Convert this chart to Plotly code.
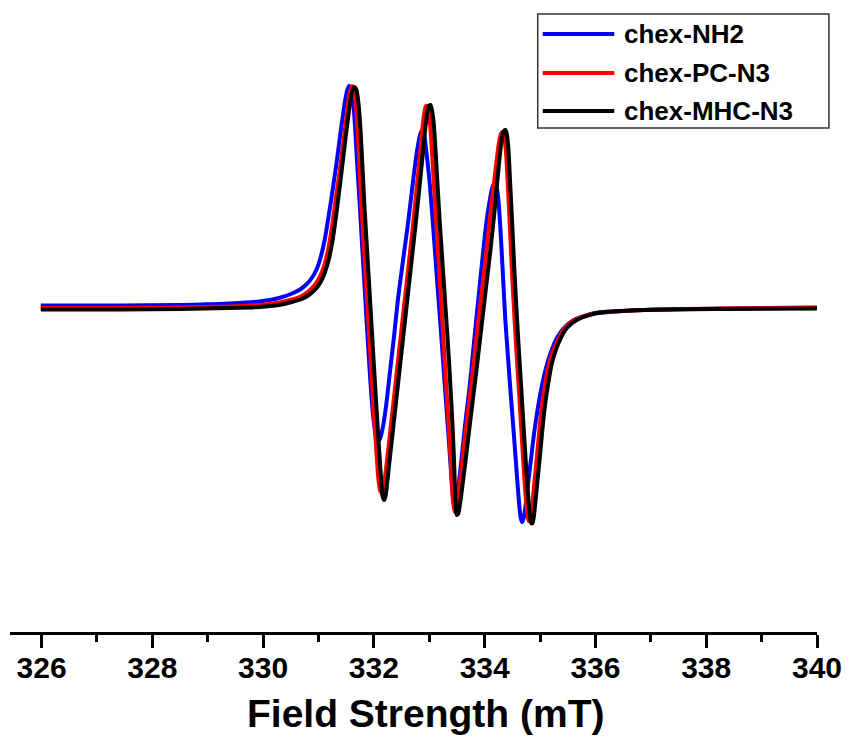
import plotly.graph_objects as go

# ---- EPR spectra (field in mT, derivative intensity in a.u.) ----
field_nh2 = [325.986, 327.419, 328.495, 329.391, 329.928, 330.287, 330.502, 330.681, 330.789, 330.879,
             330.968, 331.040, 331.111, 331.183, 331.255, 331.326, 331.380, 331.434, 331.479, 331.515,
             331.550, 331.586, 331.622, 331.658, 331.694, 331.739, 331.792, 331.846, 331.900, 331.954,
             331.998, 332.043, 332.079, 332.115, 332.169, 332.222, 332.294, 332.366, 332.437, 332.527,
             332.617, 332.688, 332.760, 332.814, 332.850, 332.885, 332.912, 332.939, 332.975, 333.011,
             333.065, 333.118, 333.172, 333.226, 333.280, 333.333, 333.378, 333.414, 333.441, 333.468,
             333.495, 333.531, 333.584, 333.656, 333.728, 333.799, 333.871, 333.961, 334.032, 334.086,
             334.131, 334.176, 334.212, 334.238, 334.265, 334.301, 334.337, 334.373, 334.418, 334.462,
             334.507, 334.552, 334.588, 334.624, 334.651, 334.677, 334.704, 334.740, 334.785, 334.839,
             334.893, 334.946, 335.018, 335.108, 335.197, 335.305, 335.430, 335.609, 335.932, 336.828,
             338.351, 340.000]
signal_nh2 = [1.5, 1.5, 2, 3.5, 5.5, 9, 13, 18, 23, 29,
              38, 50, 67, 91, 117, 144, 167, 189, 206, 216,
              221, 218, 207, 182, 147, 107, 57, 7, -43, -88,
              -115, -130, -134, -131, -118, -98, -63, -28, 9, 47,
              84, 117, 149, 167, 175, 176, 171, 159, 142, 122,
              84, 44, 4, -36, -78, -118, -153, -183, -196, -199,
              -193, -178, -151, -113, -80, -40, 0, 49, 85, 105,
              118, 124, 121, 112, 95, 62, 24, -13, -48, -81,
              -113, -146, -173, -198, -211, -215, -211, -198, -176, -151,
              -126, -106, -83, -61, -45, -31, -21, -13, -7, -3,
              -1.5, -0.5]

field_pc = [325.986, 327.419, 328.495, 329.391, 329.928, 330.287, 330.520, 330.699, 330.825, 330.932,
            331.022, 331.093, 331.165, 331.237, 331.308, 331.380, 331.434, 331.488, 331.532, 331.568,
            331.604, 331.631, 331.667, 331.703, 331.739, 331.774, 331.828, 331.882, 331.936, 331.989,
            332.043, 332.079, 332.115, 332.142, 332.169, 332.205, 332.258, 332.348, 332.437, 332.527,
            332.617, 332.706, 332.778, 332.832, 332.876, 332.912, 332.939, 332.966, 332.993, 333.020,
            333.047, 333.100, 333.154, 333.208, 333.262, 333.316, 333.370, 333.405, 333.432, 333.459,
            333.486, 333.521, 333.575, 333.656, 333.746, 333.835, 333.925, 334.015, 334.086, 334.158,
            334.212, 334.256, 334.292, 334.319, 334.346, 334.382, 334.418, 334.453, 334.489, 334.525,
            334.561, 334.606, 334.651, 334.695, 334.731, 334.767, 334.794, 334.821, 334.848, 334.893,
            334.946, 335.018, 335.090, 335.179, 335.323, 335.448, 335.627, 335.986, 336.882, 338.351,
            340.000]
signal_pc = [-1, -1, -0.5, 0.5, 2, 4.5, 7.5, 11, 16, 22,
             30, 40, 55, 78, 107, 135, 159, 183, 203, 215,
             221, 219, 207, 182, 142, 102, 52, 2, -48, -98,
             -143, -171, -184, -186, -182, -168, -143, -98, -53, -8,
             37, 82, 122, 152, 179, 195, 201, 201, 195, 179,
             157, 107, 59, 11, -38, -88, -138, -173, -196, -205,
             -203, -191, -165, -125, -83, -40, 4, 47, 85, 119,
             145, 164, 173, 175, 171, 157, 122, 82, 39, 2,
             -33, -73, -113, -153, -183, -205, -214, -213, -203, -178,
             -148, -106, -78, -53, -33, -21, -13, -6, -3, -1.5,
             -1]

field_mhc = [325.986, 327.419, 328.495, 329.391, 329.928, 330.287, 330.520, 330.699, 330.825, 330.950,
             331.039, 331.111, 331.183, 331.255, 331.326, 331.398, 331.452, 331.506, 331.560, 331.604,
             331.649, 331.685, 331.721, 331.756, 331.792, 331.828, 331.882, 331.936, 331.989, 332.043,
             332.097, 332.133, 332.160, 332.187, 332.214, 332.249, 332.294, 332.384, 332.473, 332.563,
             332.652, 332.742, 332.814, 332.868, 332.921, 332.957, 332.993, 333.020, 333.047, 333.083,
             333.118, 333.154, 333.190, 333.244, 333.298, 333.351, 333.405, 333.441, 333.459, 333.477,
             333.495, 333.521, 333.557, 333.611, 333.656, 333.746, 333.835, 333.925, 334.015, 334.104,
             334.176, 334.230, 334.274, 334.310, 334.346, 334.373, 334.400, 334.427, 334.462, 334.498,
             334.534, 334.570, 334.606, 334.651, 334.695, 334.740, 334.776, 334.812, 334.839, 334.866,
             334.893, 334.928, 334.982, 335.072, 335.143, 335.215, 335.358, 335.484, 335.663, 336.022,
             336.918, 338.351, 340.000]
signal_mhc = [-2.5, -2.5, -2, -1, 0, 2, 5, 8, 12, 18,
              25, 34, 47, 67, 95, 127, 152, 177, 200, 215,
              220, 217, 204, 179, 142, 102, 52, 2, -48, -98,
              -145, -175, -190, -193, -188, -171, -148, -103, -58, -13,
              32, 77, 115, 145, 175, 192, 201, 202, 197, 182,
              152, 117, 84, 39, -5, -50, -103, -145, -173, -198,
              -208, -207, -196, -173, -153, -111, -71, -28, 15, 57,
              95, 127, 152, 168, 176, 177, 173, 159, 122, 82,
              39, 2, -33, -73, -113, -153, -183, -206, -216, -216,
              -207, -188, -158, -106, -78, -56, -33, -21, -13, -6,
              -3, -2, -1.5]

series_names = ["chex-NH2", "chex-PC-N3", "chex-MHC-N3"]
series_colors = ["#0000ff", "#ff0000", "#000000"]
series_fields = [field_nh2, field_pc, field_mhc]
series_signals = [signal_nh2, signal_pc, signal_mhc]

x_range = [325.43, 340]
major_ticks = [326, 328, 330, 332, 334, 336, 338, 340]
x_title = "Field Strength (mT)"

FONT = "Liberation Sans, Arial, sans-serif"
W, H = 852, 748
M_L, M_R, M_T, M_B = 10, 30, 10, 116

fig = go.Figure()
for name, color, xs, ys in zip(series_names, series_colors, series_fields, series_signals):
    fig.add_trace(go.Scatter(
        x=xs, y=ys, mode="lines", name=name, showlegend=False,
        line=dict(color=color, width=4, shape="spline", smoothing=0.6),
    ))

# pixel layout -> paper coordinates for the legend box and the axis title
plot_w = W - M_L - M_R
plot_h = H - M_T - M_B


def paper_x(px):
    return (px - M_L) / plot_w


def paper_y(py):
    return (H - M_B - py) / plot_h


fig.add_shape(type="rect", xref="paper", yref="paper",
              x0=paper_x(541), x1=paper_x(834), y0=paper_y(128), y1=paper_y(14),
              line=dict(color="#333333", width=1.5), fillcolor="white", layer="above")
row_y = [34, 73, 111]
for name, color, ry in zip(series_names, series_colors, row_y):
    fig.add_shape(type="line", xref="paper", yref="paper",
                  x0=paper_x(546), x1=paper_x(618), y0=paper_y(ry), y1=paper_y(ry),
                  line=dict(color=color, width=4), layer="above")
    fig.add_annotation(xref="paper", yref="paper", x=paper_x(626), y=paper_y(ry),
                       xanchor="left", yanchor="middle", showarrow=False, text=name,
                       font=dict(family=FONT, size=26, color="black", weight="bold"))

# x-axis title, centred under the labelled span of the axis
fig.add_annotation(xref="paper", yref="paper", x=paper_x(428), y=paper_y(713),
                   xanchor="center", yanchor="middle", showarrow=False, text=x_title,
                   font=dict(family=FONT, size=39, color="black", weight="bold"))

fig.update_layout(
    width=W, height=H,
    margin=dict(l=M_L, r=M_R, t=M_T, b=M_B, pad=0),
    paper_bgcolor="white", plot_bgcolor="white",
    xaxis=dict(
        range=x_range, tickmode="array", tickvals=major_ticks,
        ticktext=[str(v) for v in major_ticks],
        showline=True, linecolor="black", linewidth=3,
        ticks="outside", ticklen=13, tickwidth=3, tickcolor="black",
        minor=dict(dtick=1, tick0=325, ticks="outside", ticklen=7, tickwidth=3, tickcolor="black"),
        showgrid=False, zeroline=False,
        ticklabelstandoff=-6,
        tickfont=dict(family=FONT, size=30, color="black", weight="bold"),
    ),
    yaxis=dict(visible=False, range=[-325, 297]),
)

fig.write_html("out.html")
